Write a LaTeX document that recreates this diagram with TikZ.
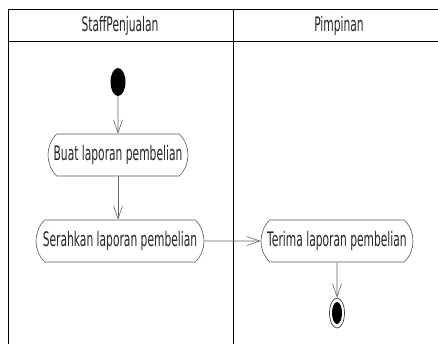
\documentclass[tikz,border=0pt]{standalone}
\usepackage{fontspec}
\newfontfamily\lanefont{DejaVu Sans}[FakeStretch=0.535]
\usetikzlibrary{positioning, shapes.geometric, shapes.misc, arrows.meta}

\begin{document}
\begin{tikzpicture}[x=1pt, y=-1pt,
    font=\lanefont\fontsize{20}{23}\selectfont,
    lane/.style={draw=black, line width=0.8pt},
    activity/.style={rounded rectangle, rounded rectangle arc length=90,
      draw=black!65, line width=0.6pt, minimum height=42pt, inner xsep=0pt, text=black!85},
    flow/.style={draw=black!60, line width=0.6pt, -{Straight Barb[length=13pt,width=9pt]}}]
  \useasboundingbox (0,0) rectangle (438,344);

  % Lanes
  \draw[lane] (8,344) -- (8,9) -- (438,9);
  \draw[lane] (8,41) -- (438,41);
  \draw[lane] (233.5,9) -- (233.5,344);
  \node[anchor=base, text=black!85] (staff) at (120,32) {StaffPenjualan};
  \node[anchor=base, text=black!85] (pimpinan) at (339,32) {Pimpinan};

  % Nodes
  \node[ellipse, fill=black, inner sep=0pt, minimum width=15pt, minimum height=28pt] (start) at (118,82) {};
  \node[activity, minimum width=140pt] (buat) at (118,155) {Buat laporan pembelian};
  \node[activity, minimum width=168pt] (serah) at (120,241) {Serahkan laporan pembelian};
  \node[activity, minimum width=152pt] (terima) at (337,241) {Terima laporan pembelian};
  \node[ellipse, draw=black!75, line width=0.7pt, inner sep=0pt, minimum width=15pt, minimum height=30pt] (end) at (337,313) {};
  \node[ellipse, fill=black, inner sep=0pt, minimum width=10pt, minimum height=22pt] (endin) at (end) {};

  % Arrows
  \draw[flow] (start) -- (buat);
  \draw[flow] (buat.south) -- (buat.south |- serah.north);
  \draw[flow] (serah) -- (terima);
  \draw[flow] (terima) -- (end);
\end{tikzpicture}
\end{document}
